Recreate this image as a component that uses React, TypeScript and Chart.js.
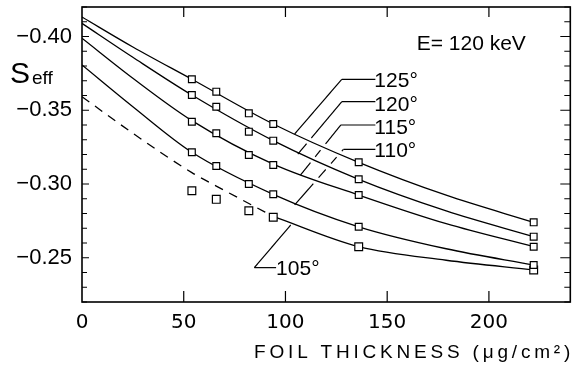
import React, { useEffect, useRef } from 'react';
import { Chart, registerables } from 'chart.js';

Chart.register(...registerables);

// ---- data ----
const thicknessPoints = [54, 66, 82, 94, 136, 222];
const meas125 = [-0.3710, -0.3626, -0.3479, -0.3407, -0.3147, -0.2740];
const meas120 = [-0.3603, -0.3524, -0.3355, -0.3294, -0.3032, -0.2643];
const meas115 = [-0.3422, -0.3344, -0.3197, -0.3129, -0.2925, -0.2575];
const meas110 = [-0.3215, -0.3122, -0.3000, -0.2930, -0.2710, -0.2451];
const meas105 = [-0.2954, -0.2896, -0.2819, -0.2774, -0.2575, -0.2417];

const fitX = [0, 25, 54, 94, 136, 179, 222];
const fit125 = [-0.4132, -0.3929, -0.3710, -0.3407, -0.3147, -0.2924, -0.2740];
const fit120 = [-0.4089, -0.3859, -0.3603, -0.3294, -0.3032, -0.2818, -0.2643];
const fit115 = [-0.3988, -0.3717, -0.3430, -0.3135, -0.2925, -0.2731, -0.2575];
const fit110 = [-0.3807, -0.3524, -0.3215, -0.2930, -0.2710, -0.2561, -0.2451];
const dashX105 = [0, 25, 54, 66, 82, 94];
const dash105 = [-0.3592, -0.3344, -0.3077, -0.2986, -0.2868, -0.2780];
const fitX105 = [94, 136, 179, 222];
const fit105 = [-0.2780, -0.2575, -0.2483, -0.2418];

const xTicks = [0, 50, 100, 150, 200];
const yTicks = [-0.40, -0.35, -0.30, -0.25];
const yMinorTicks = [-0.42, -0.41, -0.40, -0.39, -0.38, -0.37, -0.36, -0.35, -0.34, -0.33, -0.32, -0.31,
  -0.30, -0.29, -0.28, -0.27, -0.26, -0.25, -0.24, -0.23, -0.22];

// angle labels with leader lines (data units)
const angleLabels = ['125°', '120°', '115°', '110°', '105°'];
const leaderTipX = [104.5, 106.1, 107.4, 104.5, 102.6];
const leaderTipY = [-0.3339, -0.3203, -0.3061, -0.2858, -0.2722];
const leaderElbowX = [127.7, 127.7, 127.2, 128.5, 84.7];
const leaderElbowY = [-0.3710, -0.3558, -0.3400, -0.3235, -0.2433];
const labelX = [143.7, 143.7, 143.7, 143.7, 95.4];
const labelBaseY = [-0.3656, -0.3497, -0.3339, -0.3181, -0.2383];

const energyLabel = 'E= 120 keV';
const energyX = 164.5;
const energyBaseY = -0.3908;

const xTitle = 'FOIL THICKNESS (μg/cm²)';

const SANS = '"Liberation Sans", Arial, sans-serif';

function curvePath(chart: any, idx: number): any {
  const meta = chart.getDatasetMeta(idx);
  const line: any = meta && meta.dataset;
  if (!line) return null;
  try {
    const p = new Path2D();
    line.path(p);
    return p;
  } catch (e) {
    const p = new Path2D();
    meta.data.forEach((pt: any, i: number) => (i ? p.lineTo(pt.x, pt.y) : p.moveTo(pt.x, pt.y)));
    return p;
  }
}

const figurePlugin = {
  id: 'figure',
  afterDatasetsDraw(chart: any) {
    const { ctx, chartArea: a, scales } = chart;
    const xs = scales.x;
    const ys = scales.y;
    ctx.save();
    ctx.strokeStyle = '#000';
    ctx.fillStyle = '#000';

    // leader lines with gaps where they cross other curves
    const curveIdx = [5, 6, 7, 8, 10];
    const allCurves = [5, 6, 7, 8, 9, 10];
    const paths: Record<number, any> = {};
    allCurves.forEach((i) => (paths[i] = curvePath(chart, i)));
    ctx.lineWidth = 1.2;
    for (let k = 0; k < angleLabels.length; k++) {
      const ex = xs.getPixelForValue(leaderElbowX[k]);
      const ey = ys.getPixelForValue(leaderElbowY[k]);
      const tx = xs.getPixelForValue(leaderTipX[k]);
      const ty = ys.getPixelForValue(leaderTipY[k]);
      const lx = xs.getPixelForValue(labelX[k]);
      ctx.beginPath();
      ctx.moveTo(ex, ey);
      ctx.lineTo(k === 4 ? lx : lx + 1, ey);
      ctx.stroke();
      const others = allCurves.filter((i) => i !== curveIdx[k]).map((i) => paths[i]).filter(Boolean);
      const len = Math.hypot(tx - ex, ty - ey);
      const n = Math.ceil(len / 0.5);
      ctx.beginPath();
      let down = false;
      ctx.lineWidth = 7;
      for (let s = 0; s <= n; s++) {
        const t = s / n;
        const px = ex + (tx - ex) * t;
        const py = ey + (ty - ey) * t;
        let gap = false;
        for (const p of others) {
          if (ctx.isPointInStroke(p, px, py)) { gap = true; break; }
        }
        if (gap) { down = false; continue; }
        if (!down) { ctx.moveTo(px, py); down = true; } else ctx.lineTo(px, py);
      }
      ctx.lineWidth = 1.2;
      ctx.stroke();
      ctx.font = '21px ' + SANS;
      ctx.textBaseline = 'alphabetic';
      ctx.textAlign = 'left';
      ctx.fillText(angleLabels[k], lx, ys.getPixelForValue(labelBaseY[k]));
    }

    // energy label
    ctx.font = '21px ' + SANS;
    ctx.fillText(energyLabel, xs.getPixelForValue(energyX), ys.getPixelForValue(energyBaseY));

    // frame
    ctx.lineWidth = 1.6;
    ctx.strokeRect(a.left, a.top, a.right - a.left, a.bottom - a.top);

    // inward ticks
    ctx.lineWidth = 1.2;
    ctx.beginPath();
    for (const v of yMinorTicks) {
      const y = ys.getPixelForValue(v);
      const major = yTicks.some((t) => Math.abs(t - v) < 1e-9);
      ctx.moveTo(a.left, y);
      ctx.lineTo(a.left + (major ? 7 : 5), y);
      ctx.moveTo(a.right, y);
      ctx.lineTo(a.right - (major ? 10 : 6), y);
    }
    for (const v of xTicks) {
      if (v === 0) continue;
      const x = xs.getPixelForValue(v);
      ctx.moveTo(x, a.bottom);
      ctx.lineTo(x, a.bottom - 11);
      ctx.moveTo(x, a.top);
      ctx.lineTo(x, a.top + 10);
    }
    ctx.stroke();

    // y title S_eff
    const sBase = ys.getPixelForValue(-0.3683);
    ctx.font = '30px ' + SANS;
    ctx.fillText('S', 10, sBase);
    ctx.font = '19px ' + SANS;
    ctx.fillText('eff', 32, sBase + 1);

    // x title, letter-spaced, right aligned to the frame
    ctx.font = '19px ' + SANS;
    const spacing = 3.8;
    const chars = Array.from(xTitle);
    const widths = chars.map((c) => ctx.measureText(c).width);
    const total = widths.reduce((s, w) => s + w, 0) + spacing * (chars.length - 1);
    let cx = a.right - total;
    const tb = a.bottom + 56;
    chars.forEach((c, i) => {
      ctx.fillText(c, cx, tb);
      cx += widths[i] + spacing;
    });

    ctx.restore();
  },
};

export default function App() {
  const ref = useRef<HTMLCanvasElement | null>(null);

  useEffect(() => {
    document.body.style.margin = '0';
    const canvas = ref.current;
    if (!canvas) return;

    const squares = (vals: number[], r: number) => ({
      type: 'line',
      data: thicknessPoints.map((x, i) => ({ x, y: vals[i] })),
      showLine: false,
      pointStyle: 'rect',
      pointRadius: r,
      pointBackgroundColor: '#ffffff',
      pointBorderColor: '#000000',
      pointBorderWidth: 1.2,
      order: 0,
    });
    const curve = (xsArr: number[], vals: number[], dash: number[] = []) => ({
      type: 'line',
      data: xsArr.map((x, i) => ({ x, y: vals[i] })),
      borderColor: '#000000',
      borderWidth: 1.3,
      borderDash: dash,
      pointRadius: 0,
      cubicInterpolationMode: 'monotone',
      fill: false,
      order: 1,
    });

    const chart = new Chart(canvas, {
      type: 'line',
      data: {
        datasets: [
          squares(meas125, 4.8),
          squares(meas120, 4.8),
          squares(meas115, 4.8),
          squares(meas110, 4.8),
          squares(meas105, 5.5),
          curve(fitX, fit125),
          curve(fitX, fit120),
          curve(fitX, fit115),
          curve(fitX, fit110),
          curve(dashX105, dash105, [9, 7]),
          curve(fitX105, fit105),
        ] as any,
      },
      options: {
        animation: false,
        responsive: false,
        maintainAspectRatio: false,
        devicePixelRatio: 1,
        layout: { padding: { left: 0, right: 2, top: 7, bottom: 0 } },
        plugins: { legend: { display: false }, tooltip: { enabled: false }, title: { display: false } },
        scales: {
          x: {
            type: 'linear',
            min: 0,
            max: 240,
            grid: { display: false, drawTicks: false },
            border: { display: false },
            afterBuildTicks: (s: any) => { s.ticks = xTicks.map((v) => ({ value: v })); },
            afterFit: (s: any) => { s.height = 66; s.paddingLeft = 0; s.paddingRight = 0; },
            ticks: {
              autoSkip: false,
              maxRotation: 0,
              padding: 9,
              color: '#000',
              font: { family: 'DejaVu Sans', size: 20 },
              callback: (v: any) => String(v),
            },
          },
          y: {
            type: 'linear',
            reverse: true,
            min: -0.42,
            max: -0.22,
            grid: { display: false, drawTicks: false },
            border: { display: false },
            afterBuildTicks: (s: any) => { s.ticks = yTicks.map((v) => ({ value: v })); },
            afterFit: (s: any) => { s.width = 82; s.paddingTop = 0; s.paddingBottom = 0; },
            ticks: {
              autoSkip: false,
              padding: 10,
              color: '#000',
              font: { family: 'Liberation Sans', size: 22 },
              callback: (v: any) => (v < 0 ? '−' : '') + Math.abs(Number(v)).toFixed(2),
            },
          },
        },
      } as any,
      plugins: [figurePlugin],
    });
    return () => chart.destroy();
  }, []);

  return (
    <div style={{ position: 'fixed', left: 0, top: 0, width: 577, height: 368, background: '#fff' }}>
      <canvas ref={ref} width={577} height={368} style={{ display: 'block', width: 577, height: 368 }} />
    </div>
  );
}
